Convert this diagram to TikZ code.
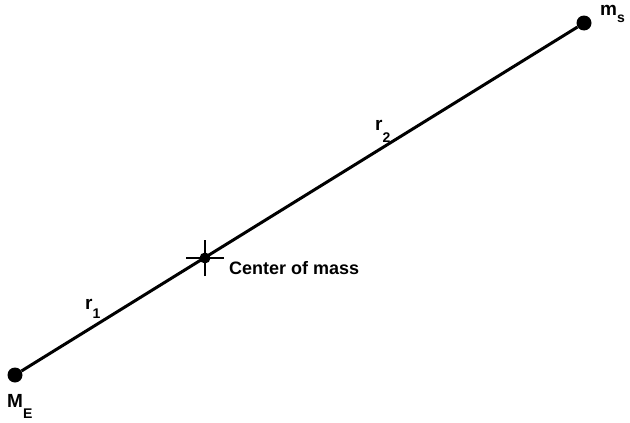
\documentclass[tikz,border=0pt]{standalone}
\usepackage{fontspec}
\setmainfont{Liberation Sans}
\newcommand{\lab}[3]{{\fontsize{19}{19}\selectfont #1}\raisebox{#3}{\fontsize{14}{14}\selectfont #2}}
\begin{document}
\begin{tikzpicture}[x=1pt,y=-1pt,
  lbl/.style={font=\bfseries, inner sep=0pt},
  dotmark/.style={circle, fill=black, minimum size=15pt, inner sep=0pt},
  link/.style={line width=3pt}]
\useasboundingbox (0,0) rectangle (630,423);
\node[dotmark] (E) at (15,375) {};
\node[dotmark] (S) at (584,23) {};
\coordinate (cm) at (205,258);
\draw[link] (E) -- (S);
\draw[line width=2.4pt] ([xshift=-19pt]cm) -- ([xshift=19pt]cm);
\draw[line width=2.4pt] ([yshift=-18pt]cm) -- ([yshift=18pt]cm);
\fill (cm) circle (5.5pt);
\node[lbl, anchor=west, font=\bfseries\fontsize{18}{18}\selectfont] (cml) at (229,268) {Center of mass};
\node[lbl, anchor=base west] (ml) at (600,16) {\lab{m}{s}{-7pt}};
\node[lbl, anchor=base west] (Ml) at (7,407) {\lab{M}{E}{-11pt}};
\node[lbl, anchor=base west] (r1) at (85,309) {\lab{r}{1}{-9pt}};
\node[lbl, anchor=base west] (r2) at (375,130) {\lab{r}{2}{-12pt}};
\end{tikzpicture}
\end{document}
